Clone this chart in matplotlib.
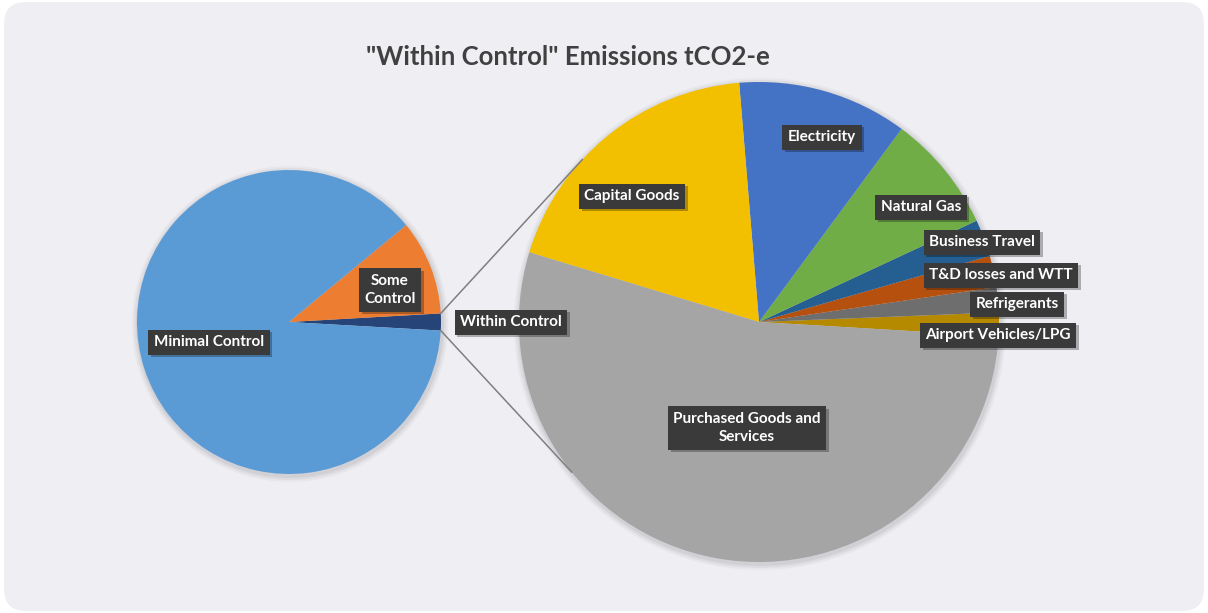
import matplotlib
matplotlib.use("Agg")
import matplotlib.pyplot as plt
import numpy as np
from matplotlib.patches import FancyBboxPatch
import matplotlib.patheffects as pe

W, H = 1208, 613

# ---------------- data ----------------
left_labels = ["Within Control", "Some\nControl", "Minimal Control"]
left_values = [1.8, 10.1, 88.1]
left_colors = ["#264478", "#ED7D31", "#5B9BD5"]

right_labels = ["Airport Vehicles/LPG", "Refrigerants", "T&D losses and WTT",
                "Business Travel", "Natural Gas", "Electricity",
                "Capital Goods", "Purchased Goods and\nServices"]
right_values = [1.58, 1.69, 2.11, 2.50, 7.94, 11.44, 19.00, 53.74]
right_colors = ["#B58900", "#6E6E6E", "#B5500E", "#255E91", "#70AD47",
                "#4472C4", "#F2C000", "#A5A5A5"]

title = "\"Within Control\" Emissions tCO2-e"

# ---------------- layout (pixels, y up) ----------------
def py(y):
    return H - y

L_c, L_r = (289, py(322)), 152
R_c, R_r = (759, py(322)), 240

left_label_pos = [(511, 322), (390, 290), (209, 342)]
right_label_pos = [(998, 335), (1017, 304), (1001, 275), (982, 242),
                   (921, 207), (822, 137), (632, 196), (747, 428)]

plt.rcParams['font.family'] = ['Lato', 'DejaVu Sans']

fig = plt.figure(figsize=(W / 100, H / 100), dpi=100)
fig.patch.set_facecolor("white")
ax = fig.add_axes([0, 0, 1, 1])

bg = FancyBboxPatch((4, 2), W - 8, H - 4, boxstyle="round,pad=0,rounding_size=22",
                    facecolor="#EFEEF3", edgecolor="none", zorder=0)
ax.add_patch(bg)

# soft shadows
for c, r in [(L_c, L_r), (R_c, R_r)]:
    for k, a in [(6, 0.03), (4, 0.04), (2, 0.05)]:
        ax.add_patch(plt.Circle((c[0] + 1, c[1] - 2), r + k, color="black",
                                alpha=a, lw=0, zorder=1))

left_start = -180.0 * left_values[0] / sum(left_values)
ax.pie(left_values, colors=left_colors, startangle=left_start, counterclock=True,
       center=L_c, radius=L_r, wedgeprops=dict(linewidth=0, zorder=2),
       frame=False)
ax.pie(right_values, colors=right_colors, startangle=-3.4, counterclock=True,
       center=R_c, radius=R_r, wedgeprops=dict(linewidth=0, zorder=2),
       frame=False)

# connector lines
half = np.deg2rad(180.0 * left_values[0] / sum(left_values))
for a_l, a_r in [(half, np.deg2rad(137.4)), (-half, np.deg2rad(218.7))]:
    x0 = L_c[0] + L_r * np.cos(a_l)
    y0 = L_c[1] + L_r * np.sin(a_l)
    x1 = R_c[0] + R_r * np.cos(a_r)
    y1 = R_c[1] + R_r * np.sin(a_r)
    ax.plot([x0, x1], [y0, y1], color="#7F7F7F", lw=1.1, zorder=3)

shadow = [pe.SimplePatchShadow(offset=(2, -2), shadow_rgbFace="black", alpha=0.28),
          pe.Normal()]

def label(txt, pos):
    t = ax.text(pos[0], py(pos[1]), txt, ha="center", va="center", color="white",
                fontsize=11, fontweight="bold", linespacing=1.4, zorder=5,
                bbox=dict(boxstyle="square,pad=0.36", facecolor="#3A3A3A",
                          edgecolor="none", path_effects=shadow))
    return t

for txt, pos in zip(left_labels, left_label_pos):
    label(txt, pos)
for txt, pos in zip(right_labels, right_label_pos):
    label(txt, pos)

ax.text(568, py(57), title, ha="center", va="center", fontsize=18.5,
        fontweight="bold", color="#404040", zorder=5)

ax.set_xlim(0, W)
ax.set_ylim(0, H)
ax.set_aspect("equal")
ax.axis("off")

fig.savefig("out.png", dpi=100, facecolor="white")
